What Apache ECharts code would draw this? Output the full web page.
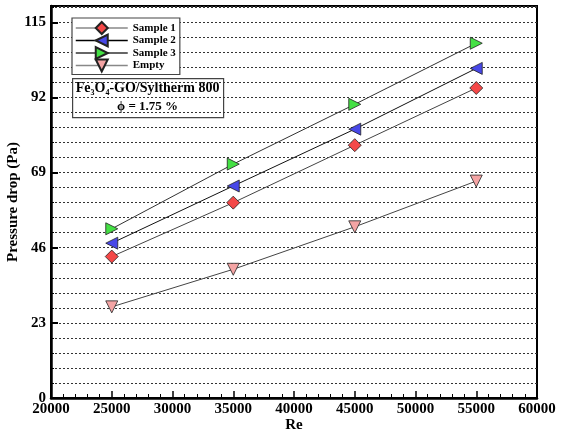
<!DOCTYPE html>
<html>
<head>
<meta charset="utf-8">
<script src="https://cdn.jsdelivr.net/npm/echarts@6/dist/echarts.min.js"></script>
<style>
  html, body { margin: 0; padding: 0; background: #fff; }
  #chart { width: 561px; height: 434px; }
</style>
</head>
<body>
<div id="chart"></div>
<script>
// Reynolds numbers tested and measured pressure drop (Pa)
const reynolds = [25000, 35000, 45000, 55000];
const sample1 = [43.3, 59.8, 77.4, 94.9];
const sample2 = [47.4, 64.9, 82.3, 100.9];
const sample3 = [51.8, 71.6, 89.9, 108.6];
const empty   = [27.9, 39.4, 52.4, 66.4];

const seriesNames = ['Sample 1', 'Sample 2', 'Sample 3', 'Empty'];
const yTickLabels = [0, 23, 46, 69, 92, 115];
const xTickLabels = [20000, 25000, 30000, 35000, 40000, 45000, 50000, 55000, 60000];

const FONT = 'Liberation Serif, Times New Roman, serif';

const pairs = vals => reynolds.map((x, i) => [x, vals[i]]);

const markerStyles = [
  { symbol: 'diamond',  rotate: 0,   color: '#f44848', line: '#444', legendLine: '#888' },
  { symbol: 'triangle', rotate: 90,  color: '#4848e8', line: '#111', legendLine: '#000' },
  { symbol: 'triangle', rotate: -90, color: '#44e044', line: '#333', legendLine: '#333' },
  { symbol: 'triangle', rotate: 180, color: '#f4a4a4', line: '#444', legendLine: '#888' }
];
const allValues = [sample1, sample2, sample3, empty];

const chart = echarts.init(document.getElementById('chart'), null, { renderer: 'canvas' });

chart.setOption({
  animation: false,
  backgroundColor: '#fff',
  grid: {
    left: 51, right: 24, top: 6, bottom: 36,
    outerBoundsMode: 'none',
    containLabel: false,
    show: true, borderColor: '#000', borderWidth: 2, backgroundColor: 'transparent'
  },
  xAxis: {
    type: 'value',
    min: xTickLabels[0],
    max: xTickLabels[xTickLabels.length - 1],
    interval: 5000,
    axisLine: { lineStyle: { color: '#000', width: 2.5 } },
    axisTick: { inside: true, length: 7, lineStyle: { color: '#000', width: 1.5 } },
    minorTick: { show: true, splitNumber: 5, length: 4, lineStyle: { color: '#000', width: 1 } },
    splitLine: { show: false },
    axisLabel: {
      color: '#000', fontFamily: FONT, fontWeight: 'bold', fontSize: 15, margin: 4,
      formatter: v => (xTickLabels.indexOf(Math.round(v)) >= 0 ? String(Math.round(v)) : '')
    },
    name: 'Re',
    nameLocation: 'middle',
    nameGap: 20,
    nameMoveOverlap: false,
    nameTextStyle: { color: '#000', fontFamily: FONT, fontWeight: 'bold', fontSize: 15 }
  },
  yAxis: [
    {
      type: 'value',
      min: 0, max: 120, interval: 4.6,
      axisLine: { show: true, lineStyle: { color: '#000', width: 2.5 } },
      axisTick: { inside: true, length: 3, lineStyle: { color: '#000', width: 1 } },
      splitLine: { show: true, lineStyle: { color: '#333', width: 1, type: [2, 2] } },
      axisLabel: {
        color: '#000', fontFamily: FONT, fontWeight: 'bold', fontSize: 15, margin: 5,
        formatter: v => {
          const r = Math.round(v);
          return (Math.abs(v - r) < 1e-6 && yTickLabels.indexOf(r) >= 0) ? String(r) : '';
        }
      },
      name: 'Pressure drop (Pa)',
      nameLocation: 'middle',
      nameGap: 30,
      nameMoveOverlap: false,
      nameTextStyle: { color: '#000', fontFamily: FONT, fontWeight: 'bold', fontSize: 15 }
    },
    {
      type: 'value',
      min: 0, max: 120, interval: 23,
      position: 'left',
      offset: 0,
      axisLine: { show: false },
      axisTick: { inside: true, length: 7, lineStyle: { color: '#000', width: 2 } },
      splitLine: { show: false },
      axisLabel: { show: false }
    }
  ],
  legend: {
    orient: 'vertical',
    left: 72, top: 18,
    itemWidth: 52, itemHeight: 15, itemGap: -1.5,
    padding: [3, 4, 2, 3],
    backgroundColor: '#fff',
    borderColor: '#444', borderWidth: 1.2,
    textStyle: { color: '#000', fontFamily: FONT, fontWeight: 'bold', fontSize: 11 },
    data: seriesNames.map((n, i) => ({
      name: n,
      lineStyle: { color: markerStyles[i].legendLine, width: 1.5 }
    }))
  },
  graphic: [
    {
      type: 'group',
      left: 72, top: 78,
      children: [
        {
          type: 'rect',
          shape: { x: 0, y: 0, width: 151, height: 39 },
          style: { fill: '#fff', stroke: '#444', lineWidth: 1.2 }
        },
        {
          type: 'text',
          style: {
            x: 75, y: 2, align: 'center',
            text: '{b|Fe}{s|3}{b|O}{s|4}{b|-GO/Syltherm 800}',
            rich: {
              b: { fontFamily: FONT, fontWeight: 'bold', fontSize: 14, fill: '#000', lineHeight: 16 },
              s: { fontFamily: FONT, fontWeight: 'bold', fontSize: 8, fill: '#000', lineHeight: 16, verticalAlign: 'bottom', padding: [6, 0, 0, 0] }
            }
          }
        },
        {
          type: 'text',
          style: {
            x: 75, y: 22, align: 'center',
            text: 'ϕ = 1.75 %',
            fontFamily: FONT, fontWeight: 'bold', fontSize: 13, fill: '#000'
          }
        }
      ]
    }
  ],
  series: allValues.map((vals, i) => ({
    name: seriesNames[i],
    type: 'line',
    data: pairs(vals),
    xAxisIndex: 0,
    yAxisIndex: 0,
    symbol: markerStyles[i].symbol,
    symbolRotate: markerStyles[i].rotate,
    symbolSize: markerStyles[i].symbol === 'diamond' ? 13 : 12,
    showAllSymbol: true,
    lineStyle: { color: markerStyles[i].line, width: 1 },
    itemStyle: { color: markerStyles[i].color, borderColor: '#222', borderWidth: 0.8 },
    z: 3
  }))
});
</script>
</body>
</html>
